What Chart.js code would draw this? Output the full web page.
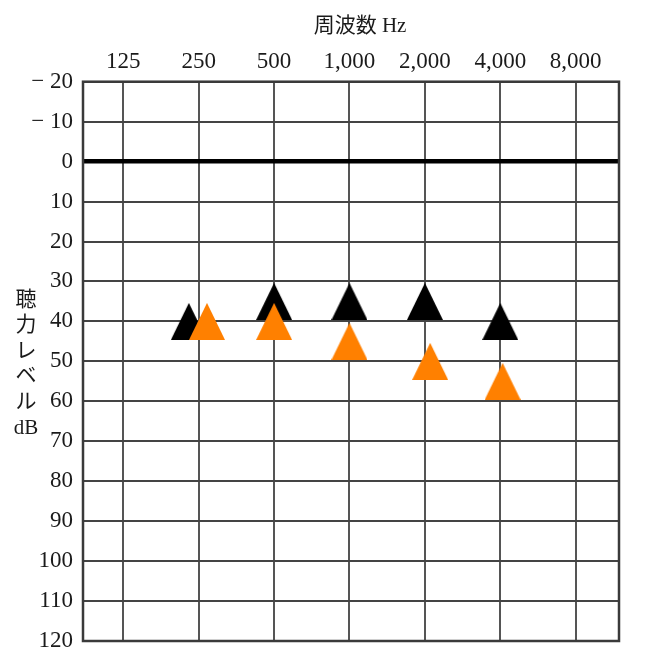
<!DOCTYPE html>
<html lang="ja">
<head>
  <meta charset="utf-8">
  <title>Audiogram</title>
  <script src="https://cdn.jsdelivr.net/npm/chart.js"></script>
  <style>
    html, body { margin: 0; padding: 0; background: #fff; }
    .chart-box { width: 650px; height: 666px; }
  </style>
</head>
<body>
  <div class="chart-box"><canvas id="audiogram"></canvas></div>

  <script>
    // frequencies along the top, hearing levels in dB
    const freqLabels = ['125', '250', '500', '1,000', '2,000', '4,000', '8,000'];
    const levelTicks = [-20, -10, 0, 10, 20, 30, 40, 50, 60, 70, 80, 90, 100, 110, 120];
    const blackLevels = [null, 40, 35, 35, 35, 40, null];
    const orangeLevels = [null, 40, 40, 45, 50, 55, null];

    const xTitle = '周波数 Hz';
    const yTitle = ['聴', '力', 'レ', 'ベ', 'ル', 'dB'];

    const serif = '"Liberation Serif", "Noto Sans CJK JP", serif';

    // small sideways nudges so overlapping marks stay visible
    const blackNudge = [0, -0.13, 0, 0, 0, 0, 0];
    const orangeNudge = [0, 0.11, 0, 0, 0.07, 0.03, 0];

    function triangle(color) {
      const c = document.createElement('canvas');
      c.width = 36; c.height = 37;
      const g = c.getContext('2d');
      g.fillStyle = color;
      g.beginPath();
      g.moveTo(18, 0);
      g.lineTo(36, 37);
      g.lineTo(0, 37);
      g.closePath();
      g.fill();
      return c;
    }

    function toPoints(levels, nudge) {
      const pts = [];
      levels.forEach((v, i) => { if (v !== null) pts.push({ x: i + nudge[i], y: v }); });
      return pts;
    }

    const frameAndTitles = {
      id: 'frameAndTitles',
      beforeDatasetsDraw(chart) {
        const { ctx, chartArea: a } = chart;
        ctx.save();
        ctx.strokeStyle = '#3a3a3a';
        ctx.lineWidth = 2.5;
        ctx.strokeRect(a.left, a.top, a.right - a.left, a.bottom - a.top);
        ctx.restore();
      },
      afterDraw(chart) {
        const ctx = chart.ctx;
        ctx.save();
        ctx.fillStyle = '#1a1a1a';
        ctx.textAlign = 'center';
        ctx.textBaseline = 'middle';
        ctx.font = '21px ' + serif;
        ctx.fillText(xTitle, 360, 26);
        let y = 300;
        yTitle.forEach(ch => {
          ctx.fillText(ch, 26, y);
          y += 25.6;
        });
        ctx.restore();
      }
    };

    new Chart(document.getElementById('audiogram').getContext('2d'), {
      type: 'scatter',
      data: {
        datasets: [
          {
            label: 'black',
            data: toPoints(blackLevels, blackNudge),
            pointStyle: triangle('#000000'),
            order: 1
          },
          {
            label: 'orange',
            data: toPoints(orangeLevels, orangeNudge),
            pointStyle: triangle('#ff8000'),
            order: 0
          }
        ]
      },
      options: {
        responsive: true,
        maintainAspectRatio: false,
        animation: false,
        layout: { padding: { left: 0, top: 0, right: 31, bottom: 25 } },
        plugins: {
          legend: { display: false },
          tooltip: { enabled: false }
        },
        scales: {
          x: {
            type: 'linear',
            position: 'top',
            min: -0.534,
            max: 6.574,
            afterBuildTicks: scale => { scale.ticks = freqLabels.map((_, i) => ({ value: i })); },
            afterFit: scale => { scale.height = 81.7; },
            border: { display: false },
            grid: { color: '#555', lineWidth: 2, drawTicks: false },
            ticks: {
              autoSkip: false,
              maxRotation: 0,
              padding: 6,
              color: '#1a1a1a',
              font: { family: serif, size: 23 },
              callback: v => freqLabels[v]
            }
          },
          y: {
            type: 'linear',
            reverse: true,
            min: -20,
            max: 120,
            afterBuildTicks: scale => { scale.ticks = levelTicks.map(v => ({ value: v })); },
            afterFit: scale => { scale.width = 83; },
            border: { display: false },
            grid: {
              drawTicks: false,
              color: ctx => ctx.tick && ctx.tick.value === 0 ? '#000' : '#444',
              lineWidth: ctx => ctx.tick && ctx.tick.value === 0 ? 4.5 : 2
            },
            ticks: {
              padding: 10,
              color: '#1a1a1a',
              font: { family: serif, size: 23 },
              callback: v => v < 0 ? '\u2212 ' + Math.abs(v) : String(v)
            }
          }
        }
      },
      plugins: [frameAndTitles]
    });
  </script>
</body>
</html>
